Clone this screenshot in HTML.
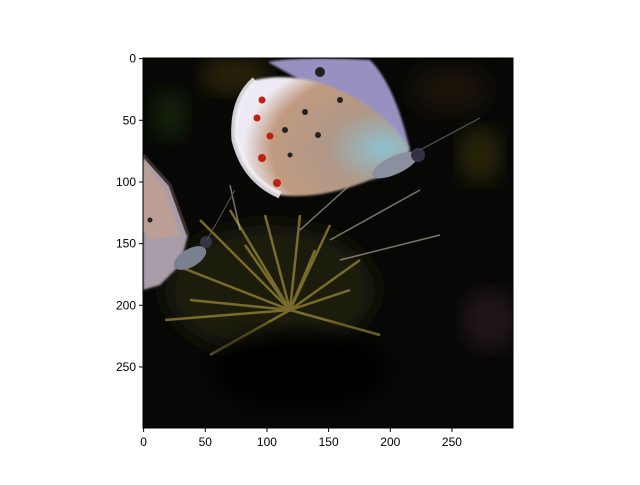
<!DOCTYPE html>
<html><head><meta charset="utf-8"><style>
body{margin:0;background:#fff;}
svg text{font-family:"Liberation Sans",sans-serif;font-size:12px;fill:#000;}
</style></head><body>
<svg id="chart" width="640" height="480" viewBox="0 0 640 480" xmlns="http://www.w3.org/2000/svg">
<defs>
<filter id="b8"><feGaussianBlur stdDeviation="10"/></filter>
<filter id="b1"><feGaussianBlur stdDeviation="1"/></filter>
<clipPath id="clip"><rect x="143" y="58" width="370" height="370"/></clipPath>
<radialGradient id="wing" cx="0.85" cy="0.6" r="0.8">
<stop offset="0" stop-color="#8fc0d0"/><stop offset="0.4" stop-color="#b09888"/><stop offset="0.8" stop-color="#c09a80"/><stop offset="1" stop-color="#eeeaf4"/></radialGradient>
</defs>
<g id="image" clip-path="url(#clip)">
<rect x="143" y="58" width="370" height="370" fill="#070806"/>
<ellipse cx="235" cy="75" rx="35" ry="20" fill="#4a3a10" filter="url(#b8)" opacity="0.5"/>
<ellipse cx="170" cy="115" rx="18" ry="25" fill="#1e3010" filter="url(#b8)" opacity="0.6"/>
<ellipse cx="480" cy="155" rx="22" ry="28" fill="#4a4010" filter="url(#b8)" opacity="0.5"/>
<ellipse cx="450" cy="90" rx="40" ry="25" fill="#2a1a10" filter="url(#b8)" opacity="0.5"/>
<ellipse cx="490" cy="320" rx="28" ry="30" fill="#3a2028" filter="url(#b8)" opacity="0.5"/>
<g>
<ellipse cx="270" cy="290" rx="105" ry="65" fill="#1e1a0a" filter="url(#b8)"/>
<g stroke="#8a7a30" stroke-width="2.5" opacity="0.85">
<line x1="290" y1="310" x2="200" y2="220"/><line x1="290" y1="310" x2="230" y2="210"/>
<line x1="290" y1="310" x2="265" y2="215"/><line x1="290" y1="310" x2="300" y2="215"/>
<line x1="290" y1="310" x2="330" y2="225"/><line x1="290" y1="310" x2="360" y2="260"/>
<line x1="290" y1="310" x2="175" y2="265"/><line x1="290" y1="310" x2="165" y2="320"/>
<line x1="290" y1="310" x2="380" y2="335"/><line x1="290" y1="310" x2="210" y2="355"/>
<line x1="290" y1="310" x2="245" y2="245"/><line x1="290" y1="310" x2="315" y2="250"/>
<line x1="290" y1="310" x2="190" y2="300"/><line x1="290" y1="310" x2="350" y2="290"/>
</g>
<g stroke="#c8c0a8" stroke-width="1.5" opacity="0.6">
<line x1="330" y1="240" x2="420" y2="190"/><line x1="340" y1="260" x2="440" y2="235"/>
<line x1="300" y1="230" x2="350" y2="185"/><line x1="240" y1="230" x2="230" y2="185"/>
</g>
<ellipse cx="300" cy="370" rx="90" ry="40" fill="#040403" filter="url(#b8)"/>
</g>
<g>
<path d="M268,62 Q300,56 370,60 Q395,85 410,150 L360,110 L300,80 Z" fill="#9890c0" filter="url(#b1)"/>
<path d="M255,80 Q300,70 350,95 Q395,120 410,150 Q395,175 370,180 Q320,200 280,195 Q245,180 235,140 Q232,100 255,80 Z" fill="url(#wing)" filter="url(#b1)"/>
<path d="M255,80 Q232,100 235,140 Q245,180 280,195" stroke="#f2f0f6" stroke-width="7" fill="none" opacity="0.85"/>
<g fill="#c02010"><circle cx="262" cy="158" r="4"/><circle cx="277" cy="183" r="4"/><circle cx="257" cy="118" r="3.5"/><circle cx="262" cy="100" r="3.5"/><circle cx="270" cy="136" r="3.5"/></g>
<g fill="#222"><circle cx="320" cy="72" r="5"/><circle cx="340" cy="100" r="3"/><circle cx="305" cy="112" r="3"/><circle cx="285" cy="130" r="3"/><circle cx="318" cy="135" r="3"/><circle cx="290" cy="155" r="2.5"/></g>
<ellipse cx="395" cy="165" rx="25" ry="9" fill="#8a90a0" transform="rotate(-25 395 165)"/>
<circle cx="418" cy="155" r="7" fill="#334"/>
<line x1="420" y1="150" x2="480" y2="118" stroke="#555" stroke-width="1.2"/>
</g>
<g>
<path d="M143,155 L170,185 L188,235 L180,265 L160,285 L143,290 Z" fill="#a89ca8" filter="url(#b1)"/>
<path d="M143,160 L165,190 L180,235 L150,240 L143,230 Z" fill="#c0a090" opacity="0.85"/>
<path d="M143,155 L170,185 L188,235" stroke="#3a3028" stroke-width="3" fill="none"/>
<circle cx="150" cy="220" r="2.5" fill="#222"/>
<ellipse cx="190" cy="258" rx="18" ry="9" fill="#7a8090" transform="rotate(-30 190 258)"/>
<circle cx="206" cy="242" r="6" fill="#334"/>
<line x1="207" y1="240" x2="235" y2="190" stroke="#555" stroke-width="1"/>
</g>
</g>
<rect x="143" y="58" width="370" height="370" fill="none" stroke="#000" stroke-width="1"/>
<g id="xaxis"></g>
<g id="yaxis"></g>
</svg>
<script>
const xTicks=[0,50,100,150,200,250];
const yTicks=[0,50,100,150,200,250];
const imgSize=300;
const X0=143,Y0=58,W=370,H=370;
function sx(v){return X0+(v+0.5)*W/imgSize;}
function sy(v){return Y0+(v+0.5)*H/imgSize;}
const ns="http://www.w3.org/2000/svg";
const xa=document.getElementById('xaxis'),ya=document.getElementById('yaxis');
xTicks.forEach(t=>{
 const l=document.createElementNS(ns,'line');
 l.setAttribute('x1',sx(t));l.setAttribute('x2',sx(t));l.setAttribute('y1',Y0+H);l.setAttribute('y2',Y0+H+4);l.setAttribute('stroke','#000');
 
 
 xa.appendChild(l);
 const tx=document.createElementNS(ns,'text');
 tx.setAttribute('x',sx(t));tx.setAttribute('y',Y0+H+18);tx.setAttribute('text-anchor','middle');tx.textContent=t;
 
 
 xa.appendChild(tx);
});
yTicks.forEach(t=>{
 const l=document.createElementNS(ns,'line');
 l.setAttribute('x1',X0-4);l.setAttribute('x2',X0);l.setAttribute('y1',sy(t));l.setAttribute('y2',sy(t));l.setAttribute('stroke','#000');
 
 
 ya.appendChild(l);
 const tx=document.createElementNS(ns,'text');
 tx.setAttribute('x',X0-7);tx.setAttribute('y',sy(t)+4);tx.setAttribute('text-anchor','end');tx.textContent=t;
 
 
 ya.appendChild(tx);
});
</script>
</body></html>
